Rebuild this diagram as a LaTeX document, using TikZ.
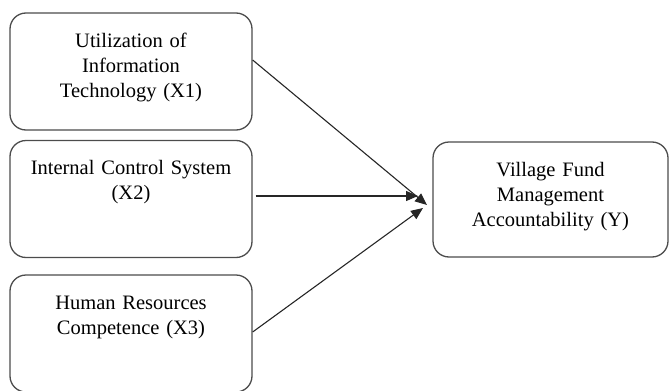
\documentclass[tikz,border=0pt]{standalone}
\usepackage{fontspec}
\setmainfont{Liberation Serif}
\usetikzlibrary{arrows.meta, positioning}

\begin{document}
\begin{tikzpicture}[
  x=1pt, y=-1pt,
  varbox/.style={draw=black!70, line width=1.3pt, rounded corners=16pt,
    align=center, font=\fontsize{20.5}{25}\selectfont,
    inner xsep=11pt, inner ysep=10pt, text height=24pt, text depth=73pt},
  link/.style={draw=black!85, line width=1.1pt},
  >={Triangle[length=12pt,width=10pt]}
]
  %------------------------------------------------------------
  %  PARAMETERS
  %------------------------------------------------------------
  \def\xL{131}      % centre of the left column
  \def\xR{550.5}    % centre of the dependent variable
  \useasboundingbox (0,0) rectangle (670,391);

  %------------------------------------------------------------
  %  INDEPENDENT VARIABLES (X1, X2, X3)
  %------------------------------------------------------------
  \node[varbox, text width=220pt] (X1) at (\xL,71.5)
    {Utilization of\\Information\\Technology (X1)};
  \node[varbox, text width=220pt] (X2) at (\xL,199)
    {Internal Control System\\(X2)};
  \node[varbox, text width=220pt] (X3) at (\xL,333.5)
    {Human Resources\\Competence (X3)};

  %------------------------------------------------------------
  %  DEPENDENT VARIABLE (Y)
  %------------------------------------------------------------
  \node[varbox, text width=213pt, text depth=71pt] (Y) at (\xR,199.5)
    {Village Fund\\Management\\Accountability (Y)};

  %------------------------------------------------------------
  %  ARROW TIPS (stop short of Y)
  %------------------------------------------------------------
  \coordinate (tip1) at (427,205);
  \coordinate (tip2) at (418,196);
  \coordinate (tip3) at (423,208);

  \draw[link, ->] ([yshift=11.5pt]X1.east) -- (tip1);
  \draw[link, ->] ([xshift=3pt, yshift=3pt]X2.east) -- (tip2);
  \draw[link, ->] ([yshift=1.5pt]X3.east) -- (tip3);

\end{tikzpicture}
\end{document}
